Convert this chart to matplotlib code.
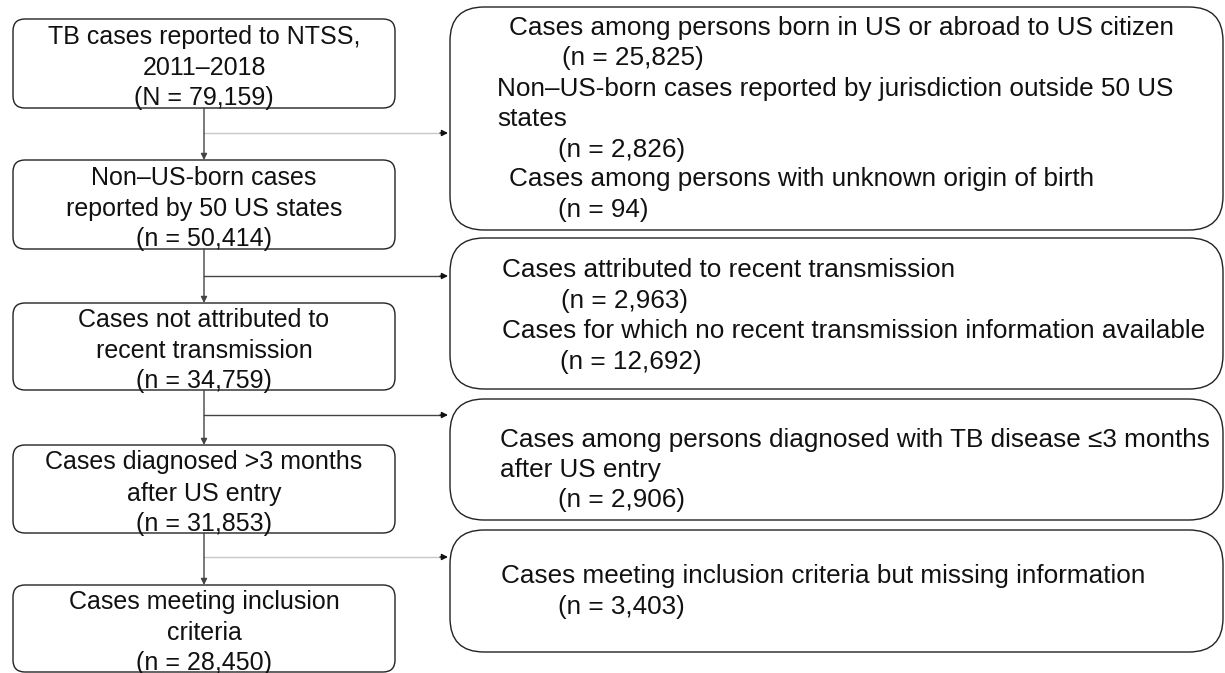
import matplotlib.pyplot as plt
from matplotlib.patches import FancyBboxPatch

plt.rcParams['font.family'] = ['Liberation Sans', 'DejaVu Sans']

# left column: main flow, one list of lines per box
main_labels = [
    ["TB cases reported to NTSS,", "2011\u20132018", "(N = 79,159)"],
    ["Non\u2013US-born cases", "reported by 50 US states", "(n = 50,414)"],
    ["Cases not attributed to", "recent transmission", "(n = 34,759)"],
    ["Cases diagnosed >3 months", "after US entry", "(n = 31,853)"],
    ["Cases meeting inclusion", "criteria", "(n = 28,450)"],
]

# right column: exclusion boxes, one list of lines per box
excl_labels = [
    ["Cases among persons born in US or abroad to US citizen",
     "(n = 25,825)",
     "Non\u2013US-born cases reported by jurisdiction outside 50 US",
     "states",
     "(n = 2,826)",
     "Cases among persons with unknown origin of birth",
     "(n = 94)"],
    ["Cases attributed to recent transmission",
     "(n = 2,963)",
     "Cases for which no recent transmission information available",
     "(n = 12,692)"],
    ["Cases among persons diagnosed with TB disease \u22643 months",
     "after US entry",
     "(n = 2,906)"],
    ["Cases meeting inclusion criteria but missing information",
     "(n = 3,403)"],
]

# layout in pixels (figure is 1225 x 673)
W, H = 1225, 673
main_y = [(19, 108), (160, 249), (303, 390), (445, 533), (585, 672)]
main_x = (13, 395)
main_offsets = [-26.5, 4.5, 34.5]
excl_y = [(7, 230), (238, 389), (399, 520), (530, 652)]
excl_x = (450, 1223)
excl_text_x = [
    [509, 562, 497, 497, 558, 509, 558],
    [502, 561, 502, 560],
    [500, 500, 558],
    [501, 558],
]
excl_text_y = [
    [28, 58, 89, 119, 150, 179, 210],
    [270, 301, 331, 362],
    [440, 470, 500],
    [576, 607],
]
branch_y = [133, 276, 415, 557]
branch_col = ['#c8c8c8', '#444444', '#444444', '#c8c8c8']

fig = plt.figure(figsize=(W / 100, H / 100), dpi=100)
ax = fig.add_axes([0, 0, 1, 1])
ax.set_xlim(0, W)
ax.set_ylim(H, 0)
ax.axis('off')

cx = 204

for lines, (y0, y1) in zip(main_labels, main_y):
    ax.add_patch(FancyBboxPatch((main_x[0], y0), main_x[1] - main_x[0], y1 - y0,
                                boxstyle="round,pad=0,rounding_size=12",
                                fc='white', ec='#222222', lw=1.0, zorder=1))
    c = (y0 + y1) / 2
    for txt, off in zip(lines, main_offsets):
        ax.text(cx, c + off, txt, ha='center', va='center',
                fontsize=18, color='#111111', zorder=3)

for (y0, y1), lines, xs, ys in zip(excl_y, excl_labels, excl_text_x, excl_text_y):
    ax.add_patch(FancyBboxPatch((excl_x[0], y0), excl_x[1] - excl_x[0], y1 - y0,
                                boxstyle="round,pad=0,rounding_size=34",
                                fc='white', ec='#222222', lw=1.0, zorder=1))
    for txt, x, y in zip(lines, xs, ys):
        ax.text(x, y, txt, ha='left', va='center', fontsize=18.8, color='#111111')

# vertical arrows between main boxes
for (a0, a1), (b0, b1) in zip(main_y[:-1], main_y[1:]):
    ax.annotate('', xy=(cx, b0), xytext=(cx, a1),
                arrowprops=dict(arrowstyle='-|>', color='#444444', lw=1.0,
                                mutation_scale=9, shrinkA=0, shrinkB=0))

# branches to exclusion boxes
for y, c in zip(branch_y, branch_col):
    ax.plot([cx, excl_x[0] - 9], [y, y], color=c, lw=1.0)
    ax.annotate('', xy=(excl_x[0] - 2, y), xytext=(excl_x[0] - 10, y),
                arrowprops=dict(arrowstyle='-|>', color='#111111', lw=1.0,
                                mutation_scale=9, shrinkA=0, shrinkB=0))

fig.savefig('out.png', dpi=100)
